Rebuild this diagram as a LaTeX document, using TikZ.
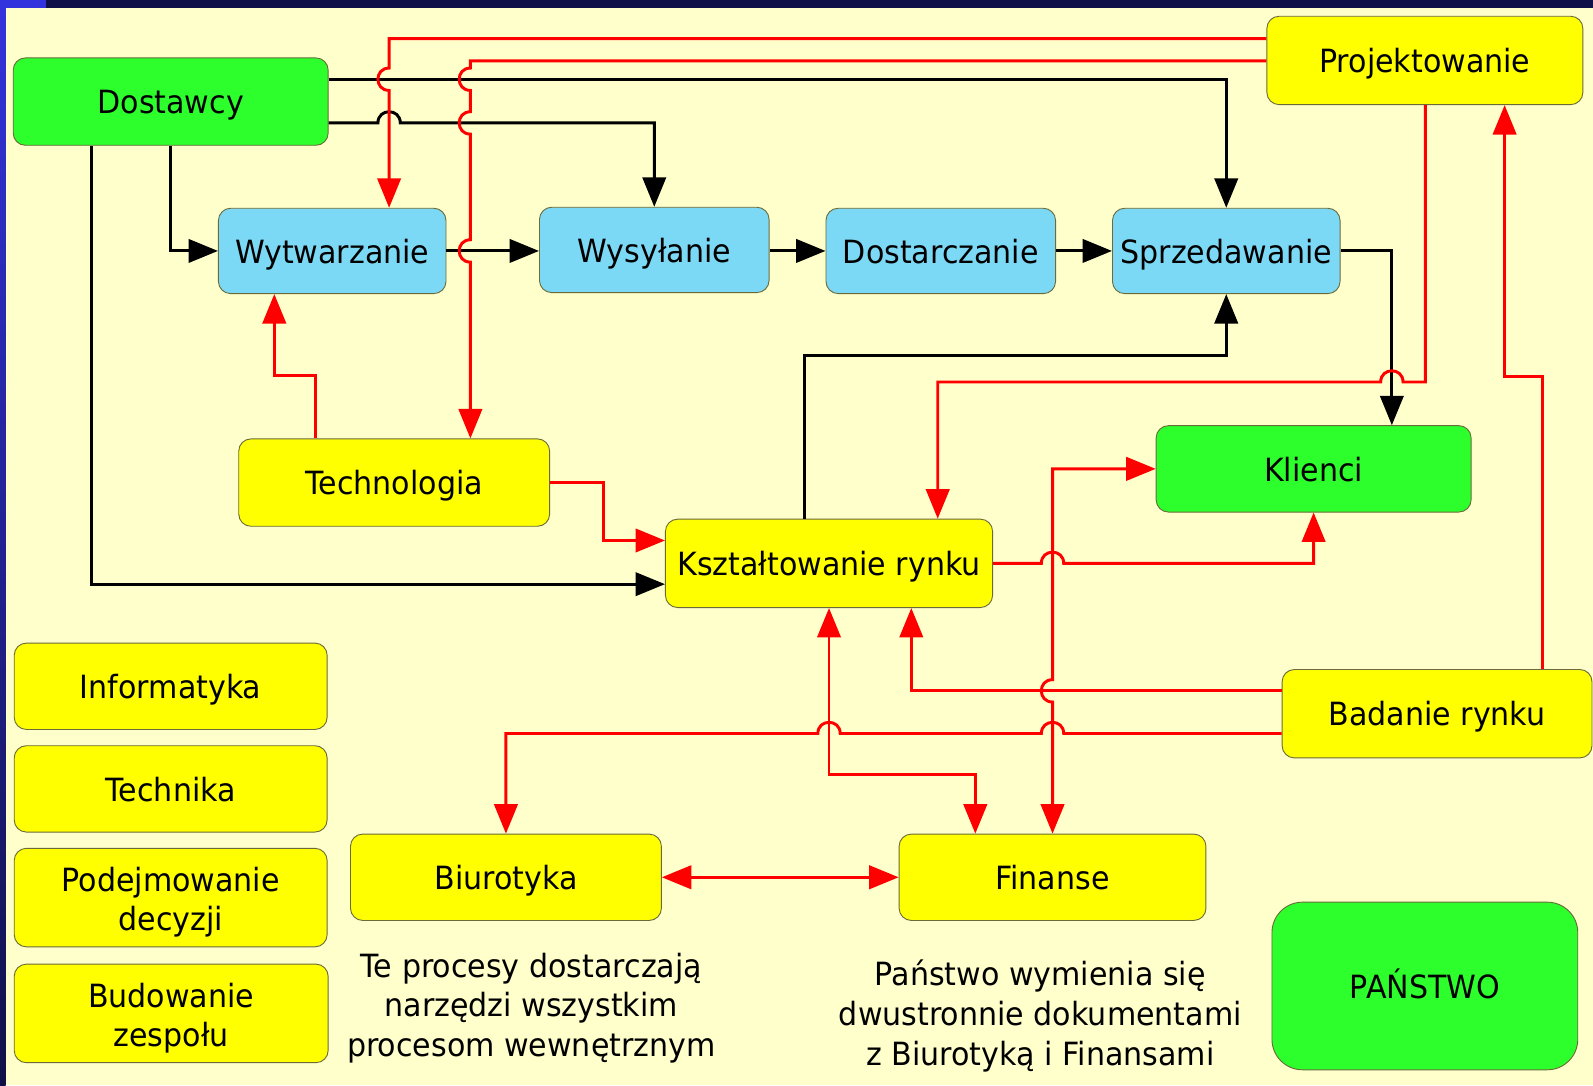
\documentclass[tikz,border=0pt]{standalone}
\usepackage{fontspec}
\setmainfont{DejaVu Sans}[FakeStretch=0.94]
\usetikzlibrary{arrows.meta}
\definecolor{bgc}{HTML}{FFFFCC}
\definecolor{navy}{HTML}{101048}
\definecolor{brightblue}{HTML}{3333DD}
\definecolor{gbox}{HTML}{2DFF2D}
\definecolor{bbox}{HTML}{7CD9F5}
\definecolor{ybox}{HTML}{FFFF00}
\definecolor{edgec}{HTML}{6B6B3A}
\definecolor{redc}{HTML}{FF0000}
\newcommand{\twolines}[2]{\raisebox{-5.5pt}[\height][\depth]{\begin{tabular}{@{}c@{}}#1\\#2\end{tabular}}}
\tikzset{
  boxbase/.style={draw=edgec, line width=0.9pt, rounded corners=12pt, inner sep=0pt,
    font=\fontsize{31.5}{39}\selectfont},
  box/.style={boxbase, text height=24pt, text depth=0pt},
  sz/.style 2 args={minimum width=#1pt, minimum height=#2pt},
  greenbox/.style={box, fill=gbox},
  bluebox/.style={box, fill=bbox},
  yellowbox/.style={box, fill=ybox},
  yellowbox2/.style={boxbase, fill=ybox},
  note/.style={align=center, font=\fontsize{31.5}{39}\selectfont, inner sep=0pt},
  blk/.style={line width=2.9pt, black, -{Triangle[length=29pt,width=23pt]}},
  rd/.style={line width=2.9pt, redc, -{Triangle[length=29pt,width=23pt]}},
  rdd/.style={line width=2.9pt, redc, {Triangle[length=29pt,width=23pt]}-{Triangle[length=29pt,width=23pt]}}
}
\begin{document}
\begin{tikzpicture}[x=1pt,y=-1pt]
\useasboundingbox (0,0) rectangle (1568,1068);
\fill[bgc] (0,0) rectangle (1568,1068);
\fill[navy] (0,0) rectangle (1568,7.5);
\fill[brightblue] (0,0) rectangle (45,7.5);
\shade[top color=brightblue, bottom color=navy] (0,0) rectangle (5.5,1068);

% nodes
\node[greenbox, sz={310}{86}] (dost) at (168,100) {Dostawcy};
\node[bluebox, sz={224}{84}] (wytw) at (327,247) {Wytwarzanie};
\node[bluebox, sz={226}{84}] (wysy) at (644,246) {Wysyłanie};
\node[bluebox, sz={226}{84}] (dost2) at (926,247) {Dostarczanie};
\node[bluebox, sz={224}{84}] (sprz) at (1207,247) {Sprzedawanie};
\node[yellowbox, sz={311}{87}] (proj) at (1402.5,59.5) {Projektowanie};
\node[yellowbox, sz={306}{86}] (tech) at (388,475) {Technologia};
\node[yellowbox, sz={322}{87}] (ksz) at (816,554.5) {Kształtowanie rynku};
\node[greenbox, sz={310}{85}] (kli) at (1293,461.5) {Klienci};
\node[yellowbox, sz={305}{87}] (bad) at (1414.5,702.5) {Badanie rynku};
\node[yellowbox, sz={308}{85}] (inf) at (168,675.5) {Informatyka};
\node[yellowbox, sz={308}{85}] (techn) at (168,776.5) {Technika};
\node[yellowbox2, sz={308}{97}] (pod) at (168,883.5) {\twolines{Podejmowanie}{decyzji}};
\node[yellowbox2, sz={309}{97}] (bud) at (168.5,997.5) {\twolines{Budowanie}{zespołu}};
\node[yellowbox, sz={306}{85}] (biur) at (498,863.5) {Biurotyka};
\node[yellowbox, sz={302}{85}] (fin) at (1036,863.5) {Finanse};
\node[greenbox, sz={301}{165}, rounded corners=30pt] (pan) at (1402.5,970.5) {PAŃSTWO};
\node[note] (n1) at (523,992) {Te procesy dostarczają\\narzędzi wszystkim\\procesom wewnętrznym};
\node[note] (n2) at (1024,1000) {Państwo wymienia się\\dwustronnie dokumentami\\z Biurotyką i Finansami};

% black connectors
\draw[blk] (dost.east |- 0,78) -| (sprz.north);
\draw[blk] (dost.east |- 0,121) -- (372,121) .. controls (372,106.3) and (394,106.3) .. (394,121) -| (wysy.north);
\draw[blk] (dost.south) |- (wytw.west);
\draw[blk] (dost.south -| 90,0) |- (ksz.west |- 0,575);
\draw[blk] (wytw.east) -- (wysy.west |- wytw.east);
\draw[blk] (wysy.east |- dost2.west) -- (dost2.west);
\draw[blk] (dost2.east) -- (sprz.west);
\draw[blk] (sprz.east) -| (kli.north -| 1370,0);
\draw[blk] (ksz.north -| 792,0) |- (sprz.south |- 0,350) -- (sprz.south);

% red connectors
\draw[rd] (proj.west |- 0,38) -- (383,38) -- (383,67) .. controls (368.3,67) and (368.3,89) .. (383,89) -- (wytw.north -| 383,0);
\draw[rd] (proj.west |- 0,60) -- (463,60) -- (463,67)
  .. controls (448.3,67) and (448.3,89) .. (463,89) -- (463,110)
  .. controls (448.3,110) and (448.3,132) .. (463,132) -- (463,236)
  .. controls (448.3,236) and (448.3,258) .. (463,258) -- (tech.north -| 463,0);
\draw[rd] (proj.south -| 1403,0) -- (1403,376) -- (1381,376) .. controls (1381,361.3) and (1359,361.3) .. (1359,376) -- (923,376) -- (ksz.north -| 923,0);
\draw[rd] (tech.north -| 311,0) -- (311,370) -- (270,370) -- (wytw.south -| 270,0);
\draw[rd] (tech.east) -- (594,475) |- (ksz.west |- 0,532);
\draw[rd] (ksz.east) -- (1025,554.5) .. controls (1025,539.8) and (1047,539.8) .. (1047,554.5) -| (kli.south);
\draw[rd] (bad.north -| 1518,0) -- (1518,371) -- (1481,371) -- (proj.south -| 1481,0);
\draw[rd] (bad.west |- 0,680) -- (897,680) -- (ksz.south -| 897,0);
\draw[rd] (bad.west |- 0,722) -- (1047,722) .. controls (1047,707.3) and (1025,707.3) .. (1025,722)
  -- (827,722) .. controls (827,707.3) and (805,707.3) .. (805,722) -- (498,722) -- (biur.north);
\draw[rdd] (ksz.south) |- (960,762) -- (fin.north -| 960,0);
\draw[rdd] (fin.north) -- (1036,691) .. controls (1021.3,691) and (1021.3,669) .. (1036,669) |- (kli.west);
\draw[rdd] (biur.east) -- (fin.west);
\end{tikzpicture}
\end{document}
